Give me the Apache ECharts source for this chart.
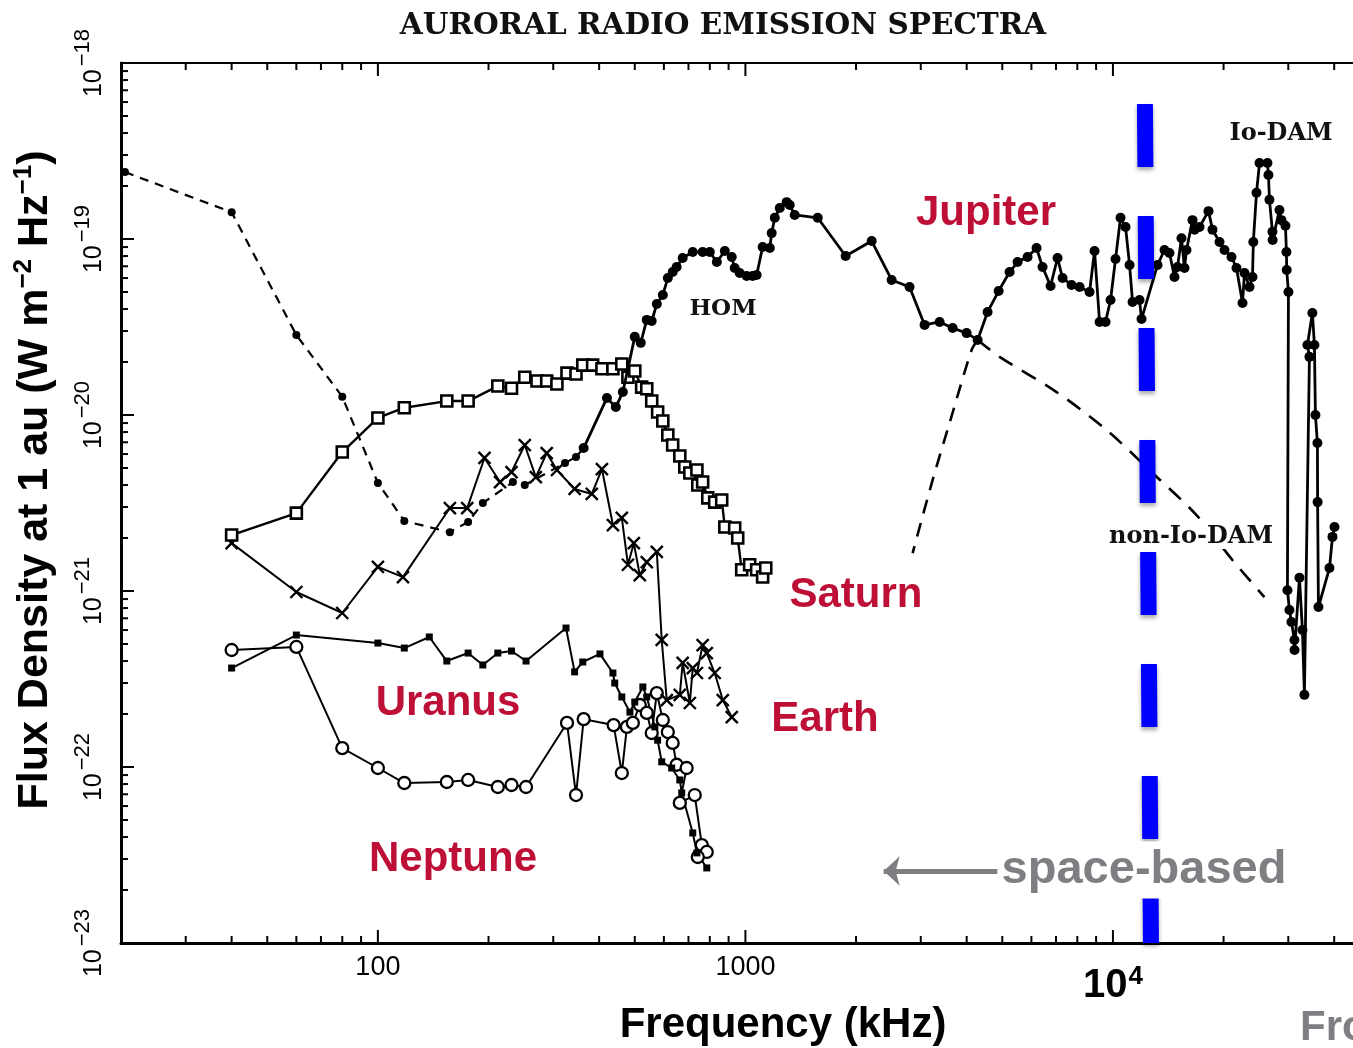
<!DOCTYPE html>
<html>
<head>
<meta charset="utf-8">
<title>Auroral Radio Emission Spectra</title>
<script src="https://cdn.jsdelivr.net/npm/echarts@6/dist/echarts.min.js"></script>
<style>
  html, body { margin: 0; padding: 0; background: #ffffff; }
  #chart { width: 1353px; height: 1048px; }
</style>
</head>
<body>
<div id="chart"></div>
<script>
// ---------------------------------------------------------------------------
// Axis ranges and ticks
// ---------------------------------------------------------------------------
const FREQ_RANGE = [20, 45000];          // kHz
const FLUX_RANGE = [1e-23, 1e-18];       // W m^-2 Hz^-1 at 1 au
const freqDecades = [10, 100, 1000, 10000];
const fluxDecades = [1e-23, 1e-22, 1e-21, 1e-20, 1e-19];
const fluxLabelValues = [1e-23, 1e-22, 1e-21, 1e-20, 1e-19, 1e-18];
const tickMultipliers = [1, 2, 3, 4, 5, 6, 7, 8, 9];
const freqTickLabels = { 2: '100', 3: '1000', 4: '10^4' };

// ---------------------------------------------------------------------------
// Jupiter: low-frequency part (dashed) and bKOM / HOM / DAM spectrum
// ---------------------------------------------------------------------------
const jupiterLowFreq = [20.5, 40, 60, 80, 100, 118, 157, 176, 193, 233, 251, 323, 346, 363];
const jupiterLowFlux = [2.4e-19, 1.42e-19, 2.85e-20, 1.27e-20, 4.11e-21, 2.5e-21, 2.16e-21,
  2.47e-21, 3.16e-21, 4.16e-21, 4.0e-21, 5.34e-21, 5.77e-21, 6.49e-21];

const jupiterFreq = [363, 420, 444, 464, 500, 519, 539, 556, 574, 596, 615, 634, 650, 675, 719,
  765, 800, 836, 879, 918, 935, 965, 1008, 1046, 1073, 1114, 1165, 1179, 1202, 1240, 1295, 1320,
  1362, 1573, 1874, 2206, 2500, 2797, 3073, 3376, 3663, 3998, 4284, 4560, 4886, 5234, 5503, 5858,
  6197, 6434, 6766, 7068, 7294, 7717, 8115, 8637, 8913, 9197, 9548, 9851, 10164, 10488, 10822,
  11098, 11308, 11814, 11963, 13224, 13813, 14252, 14706, 14985, 15365, 15656, 15855, 16462,
  16672, 17200, 18197, 18659, 19498, 20118, 21020, 21689, 22520, 22803, 23528, 23973, 24100,
  24583, 25050, 26330, 26495, 26660, 27165, 27200, 28384, 28740, 29470, 29660, 29700, 30030,
  29840, 30220, 30600, 31180, 31200, 32170, 32780, 33190, 34250, 33820, 34890, 35340, 35560,
  36010, 36050, 36240, 38830, 39570, 40070];
const jupiterFlux = [6.49e-21, 1.25e-20, 1.11e-20, 1.35e-20, 2.78e-20, 2.57e-20, 3.47e-20,
  3.42e-20, 4.27e-20, 4.81e-20, 6.0e-20, 6.49e-20, 6.93e-20, 7.8e-20, 8.44e-20, 8.44e-20,
  8.44e-20, 7.4e-20, 8.55e-20, 7.9e-20, 6.84e-20, 6.41e-20, 6.16e-20, 6.16e-20, 6.24e-20,
  9.01e-20, 8.89e-20, 1.08e-19, 1.32e-19, 1.5e-19, 1.62e-19, 1.56e-19, 1.37e-19, 1.32e-19,
  8.01e-20, 9.74e-20, 5.85e-20, 5.34e-20, 3.25e-20, 3.38e-20, 3.12e-20, 2.92e-20, 2.67e-20,
  3.85e-20, 5.06e-20, 6.49e-20, 7.4e-20, 7.9e-20, 8.89e-20, 6.93e-20, 5.41e-20, 7.8e-20, 6.0e-20,
  5.48e-20, 5.34e-20, 5.0e-20, 8.55e-20, 3.38e-20, 3.38e-20, 4.5e-20, 7.7e-20, 1.32e-19,
  1.17e-19, 7.12e-20, 4.39e-20, 4.5e-20, 3.51e-20, 7.12e-20, 8.66e-20, 8.33e-20, 6.08e-20,
  6.93e-20, 1.01e-19, 6.84e-20, 8.66e-20, 1.28e-19, 1.13e-19, 1.17e-19, 1.44e-19, 1.13e-19,
  9.62e-20, 8.66e-20, 7.9e-20, 6.84e-20, 4.33e-20, 6.41e-20, 5.34e-20, 6.08e-20, 9.62e-20,
  1.83e-19, 2.7e-19, 2.7e-19, 2.31e-19, 1.67e-19, 1.1e-19, 9.87e-20, 1.46e-19, 1.28e-19,
  1.19e-19, 8.44e-20, 6.66e-20, 5.0e-20, 1.01e-21, 7.8e-22, 6.66e-22, 5.27e-22, 4.62e-22,
  1.19e-21, 6.0e-22, 2.57e-22, 2.14e-20, 2.5e-20, 3.8e-20, 2.5e-20, 1.0e-20, 6.93e-21,
  3.2e-21, 8.11e-22, 1.35e-21, 2.03e-21, 2.31e-21];

// non-Io-DAM envelope and the second dashed branch below HOM/DAM
const nonIoDamFreq = [4284, 4916, 7024, 9608, 12815, 16880, 21140, 25830];
const nonIoDamFlux = [2.67e-20, 2.14e-20, 1.35e-20, 8.22e-21, 4.68e-21, 2.7e-21, 1.5e-21, 9.24e-22];
const damLowFreq = [4284, 4125, 3594, 3231, 2851];
const damLowFlux = [2.67e-20, 2.34e-20, 9.01e-21, 4.27e-21, 1.64e-21];

// ---------------------------------------------------------------------------
// Saturn (open squares)
// ---------------------------------------------------------------------------
const saturnFreq = [40, 60, 80, 100, 118, 154, 176, 212, 231, 251, 271, 288, 307, 327, 346, 361,
  384, 407, 436, 461, 479, 500, 522, 539, 556, 577, 596, 615, 634, 663, 684, 706, 738, 742, 765,
  790, 825, 862, 879, 935, 953, 977, 1027, 1073, 1114, 1136];
const saturnFlux = [2.08e-21, 2.77e-21, 6.16e-21, 9.62e-21, 1.1e-20, 1.2e-20, 1.2e-20, 1.46e-20,
  1.42e-20, 1.64e-20, 1.56e-20, 1.56e-20, 1.5e-20, 1.73e-20, 1.71e-20, 1.92e-20, 1.92e-20,
  1.83e-20, 1.83e-20, 1.95e-20, 1.64e-20, 1.78e-20, 1.44e-20, 1.41e-20, 1.2e-20, 1.04e-20,
  9.24e-21, 7.7e-21, 6.75e-21, 5.85e-21, 5.06e-21, 4.68e-21, 4.87e-21, 4.0e-21, 4.16e-21,
  3.38e-21, 3.2e-21, 3.29e-21, 2.31e-21, 2.28e-21, 2.0e-21, 1.32e-21, 1.41e-21, 1.32e-21,
  1.2e-21, 1.35e-21];

// ---------------------------------------------------------------------------
// Earth (crosses)
// ---------------------------------------------------------------------------
const earthFreq = [40, 60, 80, 100, 117, 157, 175, 195, 215, 231, 251, 269, 288, 307, 343, 382,
  407, 436, 461, 479, 497, 516, 539, 574, 592, 611, 663, 675, 706, 719, 738, 765, 785, 825, 868, 918];
const earthFlux = [1.87e-21, 9.87e-22, 7.5e-22, 1.37e-21, 1.2e-21, 2.96e-21, 2.96e-21, 5.7e-21,
  4.16e-21, 4.74e-21, 6.75e-21, 4.44e-21, 6.08e-21, 4.87e-21, 3.8e-21, 3.56e-21, 4.93e-21,
  2.37e-21, 2.6e-21, 1.41e-21, 1.87e-21, 1.23e-21, 1.46e-21, 1.67e-21, 5.27e-22, 2.4e-22,
  2.57e-22, 3.9e-22, 2.31e-22, 3.65e-22, 3.42e-22, 4.93e-22, 4.44e-22, 3.42e-22, 2.4e-22, 1.92e-22];

// ---------------------------------------------------------------------------
// Uranus (small filled squares)
// ---------------------------------------------------------------------------
const uranusFreq = [40, 60, 100, 118, 138, 154, 176, 193, 212, 231, 253, 325, 343, 361, 402, 436,
  441, 461, 485, 500, 526, 539, 567, 577, 592, 630, 663, 671, 719, 738, 785];
const uranusFlux = [3.65e-22, 5.62e-22, 5.06e-22, 4.74e-22, 5.48e-22, 4.0e-22, 4.44e-22, 3.8e-22,
  4.44e-22, 4.56e-22, 4.0e-22, 6.16e-22, 3.47e-22, 3.95e-22, 4.39e-22, 3.42e-22, 3.0e-22,
  2.5e-22, 2.05e-22, 2.34e-22, 2.85e-22, 2.5e-22, 1.69e-22, 1.42e-22, 1.07e-22, 9.87e-23,
  8.44e-23, 7.12e-23, 4.22e-23, 3.25e-23, 2.67e-23];

// ---------------------------------------------------------------------------
// Neptune (open circles)
// ---------------------------------------------------------------------------
const neptuneFreq = [40, 60, 80, 100, 118, 154, 176, 212, 231, 253, 327, 346, 363, 438, 461, 476,
  494, 516, 539, 556, 574, 596, 615, 634, 650, 692, 663, 728, 761, 785, 742];
const neptuneFlux = [4.62e-22, 4.81e-22, 1.28e-22, 9.87e-23, 8.11e-23, 8.22e-23, 8.44e-23,
  7.7e-23, 7.9e-23, 7.7e-23, 1.78e-22, 6.93e-23, 1.87e-22, 1.73e-22, 9.24e-23, 1.69e-22,
  1.78e-22, 2.25e-22, 2.03e-22, 1.56e-22, 2.63e-22, 1.85e-22, 1.58e-22, 1.37e-22, 1.03e-22,
  9.87e-23, 6.25e-23, 6.93e-23, 3.6e-23, 3.29e-23, 3.08e-23];

// Space-based / ground-based boundary (ionospheric cutoff) and the arrow beside it
const cutoffFreq = [12220, 12690];
const cutoffFlux = [5.85e-19, 1e-23];
const arrowFreq = [4854, 2378];
const arrowFlux = [2.566e-23, 2.566e-23];

// ---------------------------------------------------------------------------
const INK = '#000000';
const RED = '#BE1037';
const GREY = '#7D7F82';
const SANS = '"Liberation Sans", Arial, sans-serif';
const SERIF = '"DejaVu Serif", serif';

function pairs(xs, ys) { return xs.map((x, i) => [x, ys[i]]); }

const freqTicks = [];
freqDecades.forEach(d => tickMultipliers.forEach(m => {
  const v = d * m;
  if (v > FREQ_RANGE[0] && v < FREQ_RANGE[1]) freqTicks.push([v, FLUX_RANGE[0], m === 1 ? 1 : 0]);
}));
const fluxTicks = [];
fluxDecades.forEach(d => tickMultipliers.forEach(m => {
  const v = d * m;
  if (v > FLUX_RANGE[0] && v < FLUX_RANGE[1]) fluxTicks.push([FREQ_RANGE[0], v, m === 1 ? 1 : 0]);
}));
const fluxLabels = fluxLabelValues.map(v => [FREQ_RANGE[0], v]);

function decadeOf(v) {
  const e = Math.log10(v);
  return Math.abs(e - Math.round(e)) < 1e-6 ? Math.round(e) : null;
}

// inward tick marks on the bottom, top and left frame lines
function renderFreqTick(params, api) {
  const v = api.value(0);
  const len = api.value(2) ? 13 : 7;
  const b = api.coord([v, FLUX_RANGE[0]]);
  const t = api.coord([v, FLUX_RANGE[1]]);
  const st = { stroke: INK, lineWidth: 2 };
  return { type: 'group', children: [
    { type: 'line', shape: { x1: b[0], y1: b[1], x2: b[0], y2: b[1] - len }, style: st },
    { type: 'line', shape: { x1: t[0], y1: t[1], x2: t[0], y2: t[1] + len }, style: st }
  ] };
}
function renderFluxTick(params, api) {
  const v = api.value(1);
  const len = api.value(2) ? 13 : 7;
  const p = api.coord([FREQ_RANGE[0], v]);
  return { type: 'line', shape: { x1: p[0], y1: p[1], x2: p[0] + len, y2: p[1] },
    style: { stroke: INK, lineWidth: 2 } };
}
// rotated "10^-n" labels beside the flux axis, reading bottom to top
function renderFluxLabel(params, api) {
  const v = api.value(1);
  const p = api.coord([FREQ_RANGE[0], v]);
  const e = decadeOf(v);
  return {
    type: 'text', x: p[0] - 14, y: p[1], rotation: Math.PI / 2,
    style: {
      text: '{b|10}{s|\u2212' + Math.abs(e) + '}',
      align: 'center', verticalAlign: 'bottom',
      rich: {
        b: { fontSize: 25, fontFamily: SANS, fill: INK, verticalAlign: 'bottom' },
        s: { fontSize: 22, fontFamily: SANS, fill: INK, verticalAlign: 'bottom', padding: [0, 0, 13, 3] }
      }
    }
  };
}

const lineBase = { type: 'line', animation: false, silent: true, emphasis: { disabled: true },
  xAxisIndex: 0, yAxisIndex: 0, clip: false };

const option = {
  animation: false,
  backgroundColor: '#ffffff',
  grid: { left: 121, top: 63, right: 0, bottom: 105, outerBoundsMode: 'none', containLabel: false },
  xAxis: [
    {
      type: 'log', logBase: 10, min: FREQ_RANGE[0], max: FREQ_RANGE[1], position: 'bottom',
      axisLine: { show: true, onZero: false, lineStyle: { color: INK, width: 3 } },
      axisTick: { show: false }, splitLine: { show: false },
      axisLabel: {
        show: true, margin: 11, color: INK,
        formatter: function (v) {
          const e = decadeOf(v);
          const lab = e === null ? null : freqTickLabels[e];
          if (!lab) return '';
          if (lab.indexOf('^') >= 0) {
            const parts = lab.split('^');
            return '{big|' + parts[0] + '}{bigSup|' + parts[1] + '}';
          }
          return '{n|' + lab + '}';
        },
        rich: {
          n: { fontSize: 27, fontFamily: SANS, color: INK, verticalAlign: 'bottom' },
          big: { fontSize: 40, fontFamily: SANS, fontWeight: 'bold', color: INK, verticalAlign: 'bottom', padding: [12, 0, 0, 0] },
          bigSup: { fontSize: 26, fontFamily: SANS, fontWeight: 'bold', color: INK, verticalAlign: 'bottom', padding: [0, 0, 16, 1] }
        }
      }
    },
    {
      type: 'log', logBase: 10, min: FREQ_RANGE[0], max: FREQ_RANGE[1], position: 'top',
      axisLine: { show: true, onZero: false, lineStyle: { color: INK, width: 2 } },
      axisTick: { show: false }, axisLabel: { show: false }, splitLine: { show: false }
    }
  ],
  yAxis: {
    type: 'log', logBase: 10, min: FLUX_RANGE[0], max: FLUX_RANGE[1],
    axisLine: { show: true, onZero: false, lineStyle: { color: INK, width: 3 } },
    axisTick: { show: false }, splitLine: { show: false },
    axisLabel: { show: false }
  },
  series: [
    Object.assign({}, lineBase, {
      name: 'Neptune', data: pairs(neptuneFreq, neptuneFlux), z: 3,
      symbol: 'circle', symbolSize: 12,
      lineStyle: { color: INK, width: 2 },
      itemStyle: { color: '#ffffff', borderColor: INK, borderWidth: 2.3 }
    }),
    Object.assign({}, lineBase, {
      name: 'Uranus', data: pairs(uranusFreq, uranusFlux), z: 3,
      symbol: 'rect', symbolSize: 7,
      lineStyle: { color: INK, width: 2 },
      itemStyle: { color: INK }
    }),
    Object.assign({}, lineBase, {
      name: 'Earth', data: pairs(earthFreq, earthFlux), z: 3,
      symbol: 'path://M0,0L10,10M10,0L0,10', symbolSize: 12,
      lineStyle: { color: INK, width: 2 },
      itemStyle: { color: 'rgba(0,0,0,0)', borderColor: INK, borderWidth: 2.4 }
    }),
    Object.assign({}, lineBase, {
      name: 'Saturn', data: pairs(saturnFreq, saturnFlux), z: 4,
      symbol: 'rect', symbolSize: 11,
      lineStyle: { color: INK, width: 2.4 },
      itemStyle: { color: '#ffffff', borderColor: INK, borderWidth: 2.6 }
    }),
    Object.assign({}, lineBase, {
      name: 'Jupiter low frequency', data: pairs(jupiterLowFreq, jupiterLowFlux), z: 4,
      symbol: 'circle', symbolSize: 8,
      lineStyle: { color: INK, width: 2.2, type: [9, 7] },
      itemStyle: { color: INK }
    }),
    Object.assign({}, lineBase, {
      name: 'Jupiter', data: pairs(jupiterFreq, jupiterFlux), z: 5,
      symbol: 'circle', symbolSize: 10,
      lineStyle: { color: INK, width: 2.8 },
      itemStyle: { color: INK }
    }),
    Object.assign({}, lineBase, {
      name: 'non-Io-DAM', data: pairs(nonIoDamFreq, nonIoDamFlux), z: 4,
      symbol: 'none', smooth: 0.3,
      lineStyle: { color: INK, width: 2.6, type: [16, 11] }
    }),
    Object.assign({}, lineBase, {
      name: 'DAM low branch', data: pairs(damLowFreq, damLowFlux), z: 4,
      symbol: 'none', smooth: 0.3,
      lineStyle: { color: INK, width: 2.6, type: [14, 10] }
    }),
    Object.assign({}, lineBase, {
      name: 'cutoff', data: pairs(cutoffFreq, cutoffFlux), z: 6, clip: true,
      symbol: 'none',
      lineStyle: { color: '#0000FF', width: 16, type: [63, 49], cap: 'butt',
        shadowColor: 'rgba(0,0,0,0.35)', shadowBlur: 4, shadowOffsetY: 3 },
      markLine: {
        silent: true, animation: false,
        symbol: ['none', 'arrow'], symbolSize: [22, 16],
        label: { show: false },
        lineStyle: { color: GREY, width: 5, type: 'solid' },
        data: [[{ coord: [arrowFreq[0], arrowFlux[0]] }, { coord: [arrowFreq[1], arrowFlux[1]] }]]
      }
    }),
    {
      type: 'custom', name: 'freq ticks', silent: true, animation: false, z: 7,
      xAxisIndex: 0, yAxisIndex: 0, clip: false,
      renderItem: renderFreqTick, data: freqTicks
    },
    {
      type: 'custom', name: 'flux ticks', silent: true, animation: false, z: 7,
      xAxisIndex: 0, yAxisIndex: 0, clip: false,
      renderItem: renderFluxTick, data: fluxTicks
    },
    {
      type: 'custom', name: 'flux labels', silent: true, animation: false, z: 7,
      xAxisIndex: 0, yAxisIndex: 0, clip: false,
      renderItem: renderFluxLabel, data: fluxLabels
    }
  ],
  graphic: [
    { type: 'text', x: 723, y: 26, z: 100,
      style: { text: 'AURORAL RADIO EMISSION SPECTRA', fill: '#111', fontSize: 29.5, fontWeight: 'bold', fontFamily: SERIF,
        align: 'center', verticalAlign: 'middle' } },
    { type: 'text', x: 34, y: 480, rotation: Math.PI / 2, z: 100,
      style: {
        text: '{t|Flux Density at 1 au (W m}{s|\u22122}{t| Hz}{s|\u22121}{t|)}',
        align: 'center', verticalAlign: 'middle',
        rich: {
          t: { fontSize: 43, fontWeight: 'bold', fontFamily: SANS, fill: INK, verticalAlign: 'bottom' },
          s: { fontSize: 26, fontWeight: 'bold', fontFamily: SANS, fill: INK, verticalAlign: 'bottom', padding: [0, 0, 20, 0] }
        }
      } },
    { type: 'text', x: 783, y: 1025, z: 100,
      style: { text: 'Frequency (kHz)', fill: INK, fontSize: 42, fontWeight: 'bold', fontFamily: SANS,
        align: 'center', verticalAlign: 'middle' } },
    { type: 'text', x: 1300, y: 1028, z: 100,
      style: { text: 'From', fill: GREY, fontSize: 42, fontWeight: 'bold', fontFamily: SANS,
        align: 'left', verticalAlign: 'middle' } },
    { type: 'text', x: 723, y: 309, z: 100,
      style: { text: 'HOM', fill: '#111', fontSize: 23, fontWeight: 'bold', fontFamily: SERIF, align: 'center', verticalAlign: 'middle' } },
    { type: 'text', x: 1281, y: 134, z: 100,
      style: { text: 'Io-DAM', fill: '#111', fontSize: 24, fontWeight: 'bold', fontFamily: SERIF, align: 'center', verticalAlign: 'middle' } },
    { type: 'text', x: 1191, y: 537, z: 100,
      style: { text: 'non-Io-DAM', fill: '#111', fontSize: 24, fontWeight: 'bold', fontFamily: SERIF, align: 'center', verticalAlign: 'middle',
        backgroundColor: '#ffffff', padding: [0, 2, 0, 2] } },
    { type: 'text', x: 986, y: 213, z: 100,
      style: { text: 'Jupiter', fill: RED, fontSize: 42, fontWeight: 'bold', fontFamily: SANS, align: 'center', verticalAlign: 'middle' } },
    { type: 'text', x: 856, y: 595, z: 100,
      style: { text: 'Saturn', fill: RED, fontSize: 42, fontWeight: 'bold', fontFamily: SANS, align: 'center', verticalAlign: 'middle' } },
    { type: 'text', x: 448, y: 703, z: 100,
      style: { text: 'Uranus', fill: RED, fontSize: 42, fontWeight: 'bold', fontFamily: SANS, align: 'center', verticalAlign: 'middle',
        backgroundColor: '#ffffff', padding: [16, 2, 0, 2] } },
    { type: 'text', x: 825, y: 719, z: 100,
      style: { text: 'Earth', fill: RED, fontSize: 42, fontWeight: 'bold', fontFamily: SANS, align: 'center', verticalAlign: 'middle' } },
    { type: 'text', x: 453, y: 859, z: 100,
      style: { text: 'Neptune', fill: RED, fontSize: 42, fontWeight: 'bold', fontFamily: SANS, align: 'center', verticalAlign: 'middle' } },
    { type: 'text', x: 1144, y: 870, z: 100,
      style: { text: 'space-based', fill: GREY, fontSize: 47, fontWeight: 'bold', fontFamily: SANS, align: 'center', verticalAlign: 'middle',
        backgroundColor: '#ffffff', padding: [5, 4, 5, 4] } }
  ]
};

const chart = echarts.init(document.getElementById('chart'), null, { renderer: 'canvas', width: 1353, height: 1048 });
chart.setOption(option);
</script>
</body>
</html>
